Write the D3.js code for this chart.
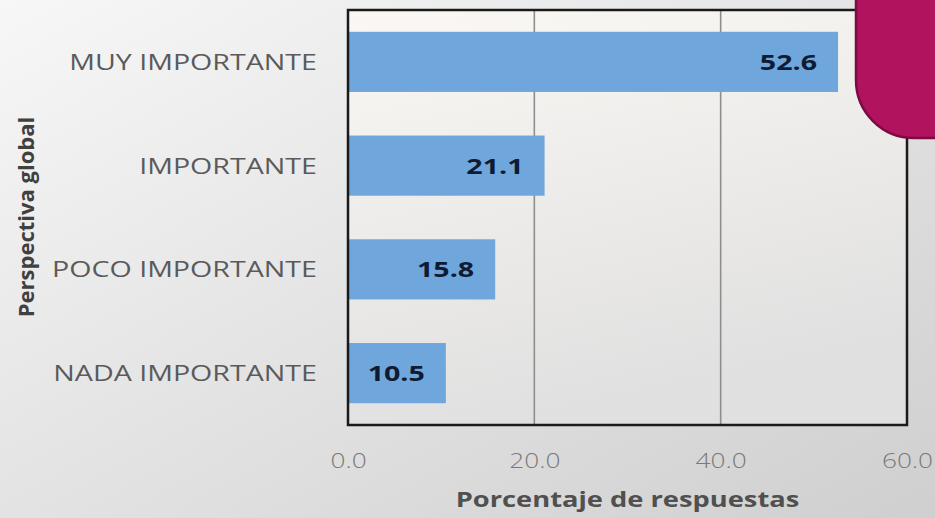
<!DOCTYPE html>
<html><head><meta charset="utf-8">
<script src="https://cdn.jsdelivr.net/npm/d3@7"></script>
<style>html,body{margin:0;padding:0;overflow:hidden;background:#e6e6e6}</style>
</head><body>
<svg id="c" width="935" height="518"></svg>
<script>
const categories = ["MUY IMPORTANTE","IMPORTANTE","POCO IMPORTANTE","NADA IMPORTANTE"];
const values = [52.6, 21.1, 15.8, 10.5];
const tickValues = [0, 20, 40, 60];
const xTitle = "Porcentaje de respuestas";
const yTitle = "Perspectiva global";

const W = 935, H = 518;
const m = {left: 348, right: 28, top: 10, bottom: 93};
const svg = d3.select("#c");
const defs = svg.append("defs");
const bg = defs.append("linearGradient").attr("id","bg").attr("x1","0").attr("y1","0").attr("x2","1").attr("y2","1");
bg.append("stop").attr("offset","0").attr("stop-color","#f7f7f7");
bg.append("stop").attr("offset","1").attr("stop-color","#cfcfcf");
const pg = defs.append("linearGradient").attr("id","pg").attr("x1","0").attr("y1","0").attr("x2","0.3").attr("y2","1");
pg.append("stop").attr("offset","0").attr("stop-color","#fbf8f4");
pg.append("stop").attr("offset","1").attr("stop-color","#e0e0e0");

function stretch(sel, k) {
  sel.each(function() {
    const w = this.getComputedTextLength();
    this.setAttribute("textLength", (w * k).toFixed(1));
    this.setAttribute("lengthAdjust", "spacingAndGlyphs");
  });
}

svg.append("rect").attr("width",W).attr("height",H).attr("fill","url(#bg)");

const x = d3.scaleLinear().domain([0,60]).range([m.left, W - m.right]);
const y = d3.scaleBand().domain(categories).range([m.top, H - m.bottom]).paddingInner(0.42).paddingOuter(0.21);

svg.append("rect").attr("x",x(0)).attr("y",m.top).attr("width",x(60)-x(0)).attr("height",H-m.bottom-m.top).attr("fill","url(#pg)");

// gridlines
svg.append("g").selectAll("line").data(tickValues.filter(t=>t>0 && t<60)).join("line")
  .attr("x1",d=>x(d)).attr("x2",d=>x(d)).attr("y1",m.top).attr("y2",H-m.bottom)
  .attr("stroke","#8e8e8e").attr("stroke-width",1.6);

// bars
svg.append("g").selectAll("rect").data(values).join("rect")
  .attr("x",x(0)).attr("y",(d,i)=>y(categories[i])).attr("width",d=>x(d)-x(0)).attr("height",y.bandwidth())
  .attr("fill","#6fa6dc");

// value labels
svg.append("g").selectAll("text").data(values).join("text")
  .attr("x",d=>x(d)-21).attr("y",(d,i)=>y(categories[i])+y.bandwidth()/2)
  .attr("dy","0.36em").attr("text-anchor","end")
  .attr("font-family","Open Sans").attr("font-weight","bold").attr("font-size",22)
  .attr("fill","#0f1a33").text(d=>d.toFixed(1))
  .call(stretch, 1.3);

// frame
svg.append("rect").attr("x",x(0)).attr("y",m.top).attr("width",x(60)-x(0)).attr("height",H-m.bottom-m.top)
  .attr("fill","none").attr("stroke","#1a1a1a").attr("stroke-width",2.5);

// x axis
const xAxis = svg.append("g").attr("transform",`translate(0,${H-m.bottom})`)
  .call(d3.axisBottom(x).tickValues(tickValues).tickFormat(d3.format(".1f")).tickSize(0).tickPadding(28));
xAxis.select(".domain").remove();
xAxis.selectAll("text").attr("font-family","Open Sans").attr("font-size",21).attr("fill","#7a7a7a").attr("font-weight","300")
  .call(stretch, 1.25);

// y axis
const yAxis = svg.append("g").attr("transform",`translate(${m.left},0)`)
  .call(d3.axisLeft(y).tickSize(0).tickPadding(31));
yAxis.select(".domain").remove();
yAxis.selectAll("text").attr("font-family","Open Sans").attr("font-size",22).attr("fill","#5a5a5a").attr("dy","0.36em")
  .call(stretch, 1.3);

// titles
svg.append("text").attr("x",(x(0)+x(60))/2).attr("y",507).attr("text-anchor","middle")
  .attr("font-family","Open Sans").attr("font-weight","bold").attr("font-size",22).attr("fill","#505050").text(xTitle)
  .call(stretch, 1.24);
svg.append("text").attr("transform","translate(34,217) rotate(-90)").attr("text-anchor","middle")
  .attr("font-family","Open Sans").attr("font-weight","bold").attr("font-size",22).attr("fill","#404040").text(yTitle);

// magenta decorative shape
const r = 58, sx = 856, sy = -5, ex = 945, ey = 138;
svg.append("path")
  .attr("d",`M${sx},${sy} L${sx},${ey-r} A${r},${r} 0 0 0 ${sx+r},${ey} L${ex},${ey} L${ex},${sy} Z`)
  .attr("fill","#b1135f").attr("stroke","#7d0a42").attr("stroke-width",2.5);
</script>
</body></html>
